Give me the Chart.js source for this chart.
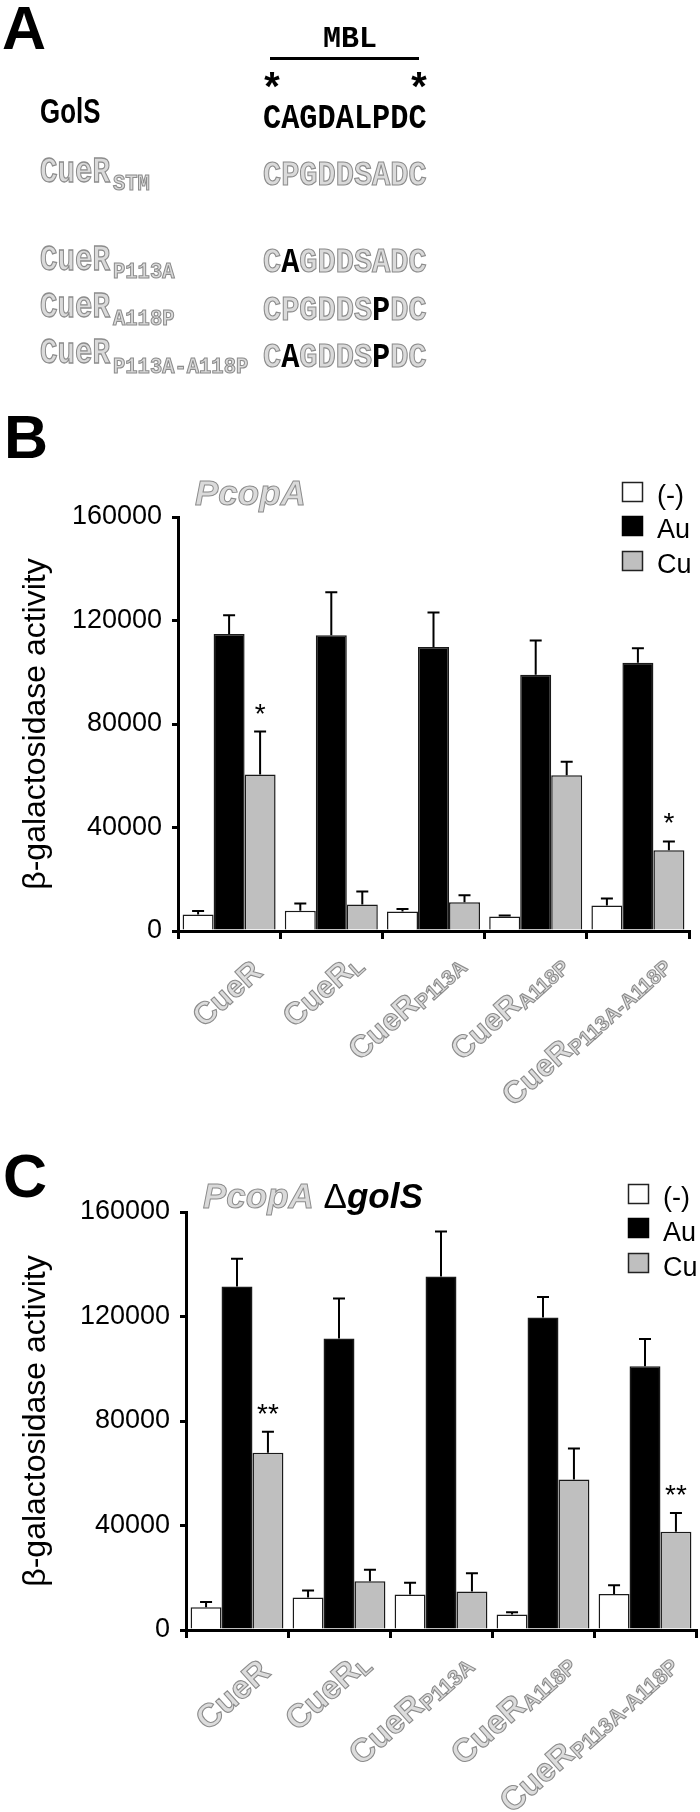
<!DOCTYPE html>
<html>
<head>
<meta charset="utf-8">
<script src="https://cdn.jsdelivr.net/npm/chart.js@4.4.1/dist/chart.umd.min.js"></script>
<style>
  html, body { margin: 0; padding: 0; background: #fff; }
  #page { position: relative; width: 700px; height: 1812px; overflow: hidden; }
  canvas { position: absolute; left: 0; }
  #chartB { top: 400px; }
  #chartC { top: 1140px; }
  svg { position: absolute; left: 0; top: 0; }
  .sans { font-family: 'Liberation Sans', Arial, sans-serif; }
  .mono { font-family: 'Liberation Mono', 'Courier New', monospace; }
  .ol { fill: #dadada; stroke: #8c8c8c; stroke-width: 1; }
  .blk { fill: #000; stroke: none; }
</style>
</head>
<body>
<div id="page">
  <canvas id="chartB" width="700" height="740"></canvas>
  <canvas id="chartC" width="700" height="672"></canvas>

  <svg width="700" height="1812" xmlns="http://www.w3.org/2000/svg">
    <!-- panel letters -->
    <text class="sans" x="2" y="49" font-size="61" font-weight="bold">A</text>
    <text class="sans" x="4" y="458" font-size="61" font-weight="bold">B</text>
    <text class="sans" x="3" y="1197" font-size="61" font-weight="bold">C</text>

    <!-- panel A: MBL alignment -->
    <text class="mono" x="323" y="47" font-size="30" font-weight="bold">MBL</text>
    <rect x="270" y="57" width="149" height="3" fill="#000"/>
    <text class="mono" x="272" y="102" font-size="40" font-weight="bold" text-anchor="middle">*</text>
    <text class="mono" x="419" y="102" font-size="40" font-weight="bold" text-anchor="middle">*</text>

    <g transform="translate(40,123) scale(0.74,1.02)">
      <text class="sans" x="0" y="0" font-size="35" font-weight="bold">GolS</text>
    </g>
    <g transform="translate(263,128) scale(1,1.18)">
      <text class="mono blk" x="0" y="0" font-size="30.3" font-weight="bold">CAGDALPDC</text>
    </g>

    <g transform="translate(40,182) scale(1,1.25)"><text class="mono ol" font-size="29.2" font-weight="bold">CueR</text></g>
    <g transform="translate(113,190) scale(1,1.12)"><text class="mono ol" font-size="20.5" font-weight="bold">STM</text></g>
    <g transform="translate(263,185) scale(1,1.18)"><text class="mono ol" font-size="30.3" font-weight="bold">CPGDDSADC</text></g>

    <g transform="translate(40,270) scale(1,1.25)"><text class="mono ol" font-size="29.2" font-weight="bold">CueR</text></g>
    <g transform="translate(113,278) scale(1,1.12)"><text class="mono ol" font-size="20.5" font-weight="bold">P113A</text></g>
    <g transform="translate(263,272) scale(1,1.18)"><text class="mono ol" font-size="30.3" font-weight="bold">C<tspan class="blk">A</tspan>GDDSADC</text></g>

    <g transform="translate(40,317) scale(1,1.25)"><text class="mono ol" font-size="29.2" font-weight="bold">CueR</text></g>
    <g transform="translate(113,325) scale(1,1.12)"><text class="mono ol" font-size="20.5" font-weight="bold">A118P</text></g>
    <g transform="translate(263,320) scale(1,1.18)"><text class="mono ol" font-size="30.3" font-weight="bold">CPGDDS<tspan class="blk">P</tspan>DC</text></g>

    <g transform="translate(40,363) scale(1,1.25)"><text class="mono ol" font-size="29.2" font-weight="bold">CueR</text></g>
    <g transform="translate(113,373) scale(1,1.12)"><text class="mono ol" font-size="20.5" font-weight="bold">P113A-A118P</text></g>
    <g transform="translate(263,367) scale(1,1.18)"><text class="mono ol" font-size="30.3" font-weight="bold">C<tspan class="blk">A</tspan>GDDS<tspan class="blk">P</tspan>DC</text></g>

    <!-- panel B title and legend -->
    <text class="sans ol" x="195" y="505" font-size="35" font-weight="bold" font-style="italic">PcopA</text>
    <rect x="622.5" y="482.5" width="20" height="19" fill="#fff" stroke="#222" stroke-width="1.5"/>
    <rect x="622.5" y="516.5" width="20" height="19" fill="#000" stroke="#000" stroke-width="1.5"/>
    <rect x="622.5" y="551.5" width="20" height="19" fill="#bfbfbf" stroke="#222" stroke-width="1.5"/>
    <text class="sans" x="657" y="504" font-size="27">(-)</text>
    <text class="sans" x="657" y="538" font-size="27">Au</text>
    <text class="sans" x="657" y="573" font-size="27">Cu</text>

    <!-- panel C title and legend -->
    <text class="sans" x="203" y="1208" font-size="35"><tspan class="ol" font-weight="bold" font-style="italic">PcopA</tspan> Δ<tspan font-weight="bold" font-style="italic">golS</tspan></text>
    <rect x="628.5" y="1184.5" width="20" height="19" fill="#fff" stroke="#222" stroke-width="1.5"/>
    <rect x="628.5" y="1218.5" width="20" height="19" fill="#000" stroke="#000" stroke-width="1.5"/>
    <rect x="628.5" y="1253.5" width="20" height="19" fill="#bfbfbf" stroke="#222" stroke-width="1.5"/>
    <text class="sans" x="663" y="1206" font-size="27">(-)</text>
    <text class="sans" x="663" y="1241" font-size="27">Au</text>
    <text class="sans" x="663" y="1276" font-size="27">Cu</text>
  </svg>
</div>

<script>
// ---- data ----------------------------------------------------------------
const groups = ['CueR', 'CueR_L', 'CueR_P113A', 'CueR_A118P', 'CueR_P113A-A118P'];
const labelMain = ['CueR', 'CueR', 'CueR', 'CueR', 'CueR'];
const labelSub = ['', 'L', 'P113A', 'A118P', 'P113A-A118P'];
const seriesNames = ['(-)', 'Au', 'Cu'];
const yTicks = [0, 40000, 80000, 120000, 160000];

// Panel B: PcopA
const bNone = [6400, 7800, 7500, 5600, 9900];
const bNoneErr = [1300, 2800, 1000, 350, 2700];
const bAu = [114800, 114300, 109800, 99000, 103700];
const bAuErr = [7200, 16600, 13300, 13300, 5600];
const bCu = [60500, 10200, 11100, 60200, 31200];
const bCuErr = [16600, 5100, 2700, 5200, 3400];
const bStars = ['*', '', '', '', '*'];

// Panel C: PcopA deltagolS
const cNone = [8700, 12400, 13600, 5900, 13800];
const cNoneErr = [2000, 2700, 4500, 850, 3300];
const cAu = [131500, 111600, 135300, 119600, 101000];
const cAuErr = [10600, 15300, 17200, 7900, 10400];
const cCu = [67800, 18700, 14700, 57600, 37600];
const cCuErr = [8100, 4400, 7000, 11900, 7200];
const cStars = ['**', '', '', '', '**'];

const fills = ['#ffffff', '#000000', '#bfbfbf'];
const FONT = "'Liberation Sans', Arial, sans-serif";

Chart.defaults.font.family = FONT;
Chart.defaults.color = '#000';

// error bars (upper only) and significance marks
const errorBarPlugin = {
  id: 'errorBars',
  afterDatasetsDraw(chart) {
    const ctx = chart.ctx;
    const ys = chart.scales.y;
    ctx.save();
    ctx.strokeStyle = '#000';
    ctx.fillStyle = '#000';
    ctx.lineWidth = 2;
    chart.data.datasets.forEach((ds, di) => {
      const meta = chart.getDatasetMeta(di);
      meta.data.forEach((bar, i) => {
        const base = ys.getPixelForValue(ds.data[i]);
        const top = ys.getPixelForValue(ds.data[i] + ds.errors[i]);
        ctx.beginPath();
        ctx.moveTo(bar.x, base);
        ctx.lineTo(bar.x, top);
        ctx.moveTo(bar.x - 6, top);
        ctx.lineTo(bar.x + 6, top);
        ctx.stroke();
        if (ds.stars && ds.stars[i]) {
          ctx.font = '28px ' + FONT;
          ctx.textAlign = 'center';
          ctx.textBaseline = 'alphabetic';
          ctx.fillText(ds.stars[i], bar.x, top - 9);
        }
      });
    });
    ctx.restore();
  }
};

// rotated outlined category labels with subscripts
const xLabelPlugin = {
  id: 'xLabels',
  afterDraw(chart, args, opts) {
    const ctx = chart.ctx;
    const xs = chart.scales.x;
    const axisY = chart.chartArea.bottom;
    const ang = -opts.angle * Math.PI / 180;
    ctx.save();
    ctx.fillStyle = '#dcdcdc';
    ctx.strokeStyle = '#8c8c8c';
    ctx.lineWidth = 1.1;
    ctx.textBaseline = 'alphabetic';
    labelMain.forEach((main, i) => {
      const cx = xs.getPixelForValue(i);
      const sub = labelSub[i];
      ctx.save();
      ctx.translate(cx + opts.dx, axisY + (sub ? opts.dySub : opts.dy));
      ctx.rotate(ang);
      let end = 0;
      let mainY = 0;
      if (sub) {
        ctx.font = 'bold ' + opts.subSize + 'px ' + FONT;
        const w = ctx.measureText(sub).width;
        ctx.textAlign = 'left';
        ctx.fillText(sub, -w, 0);
        ctx.strokeText(sub, -w, 0);
        end = -w;
        mainY = -opts.subShift;
      }
      ctx.font = 'bold ' + opts.size + 'px ' + FONT;
      ctx.textAlign = 'right';
      ctx.fillText(main, end, mainY);
      ctx.strokeText(main, end, mainY);
      ctx.restore();
    });
    ctx.restore();
  }
};

function createActivityChart(canvasId, vals, errs, stars, box) {
  const ctx = document.getElementById(canvasId);
  if (!ctx) return null;

  return new Chart(ctx, {
    type: 'bar',
    data: {
      labels: groups,
      datasets: seriesNames.map((name, k) => ({
        label: name,
        data: vals[k],
        errors: errs[k],
        stars: k === 2 ? stars : null,
        backgroundColor: fills[k],
        borderColor: '#1a1a1a',
        borderWidth: 1.5,
        categoryPercentage: 0.91,
        barPercentage: 1
      }))
    },
    options: {
      responsive: false,
      devicePixelRatio: 1,
      animation: false,
      layout: { padding: { top: box.top, right: box.right, bottom: 0, left: 0 } },
      plugins: {
        legend: { display: false },
        tooltip: { enabled: false },
        xLabels: box.labels
      },
      scales: {
        x: {
          ticks: { display: false },
          grid: {
            display: true, offset: true, drawOnChartArea: false,
            tickLength: 8, lineWidth: 3, color: '#000'
          },
          border: { display: true, width: 3, color: '#000' },
          afterFit: s => { s.height = box.xHeight; }
        },
        y: {
          min: yTicks[0],
          max: yTicks[yTicks.length - 1],
          ticks: {
            stepSize: yTicks[1] - yTicks[0],
            padding: 10,
            color: '#000',
            font: { size: 27 },
            callback: v => String(v)
          },
          grid: {
            display: true, drawOnChartArea: false,
            tickLength: 6, lineWidth: 3, color: '#000'
          },
          border: { display: true, width: 3, color: '#000' },
          title: {
            display: true,
            text: 'β-galactosidase activity',
            color: '#000',
            font: { size: 32 },
            padding: { top: 17, bottom: 0 }
          },
          afterFit: s => { s.width = box.left; }
        }
      }
    },
    plugins: [errorBarPlugin, xLabelPlugin]
  });
}

createActivityChart('chartB',
  [bNone, bAu, bCu], [bNoneErr, bAuErr, bCuErr], bStars,
  { top: 117, right: 11, left: 178, xHeight: 209,
    labels: { angle: 42, dx: 35, dy: 43, dySub: 38, size: 31, subSize: 20.5, subShift: 4 } });

createActivityChart('chartC',
  [cNone, cAu, cCu], [cNoneErr, cAuErr, cCuErr], cStars,
  { top: 72, right: 4, left: 186, xHeight: 182,
    labels: { angle: 42, dx: 35, dy: 44, dySub: 38.5, size: 33, subSize: 21.5, subShift: 4 } });
</script>
</body>
</html>
